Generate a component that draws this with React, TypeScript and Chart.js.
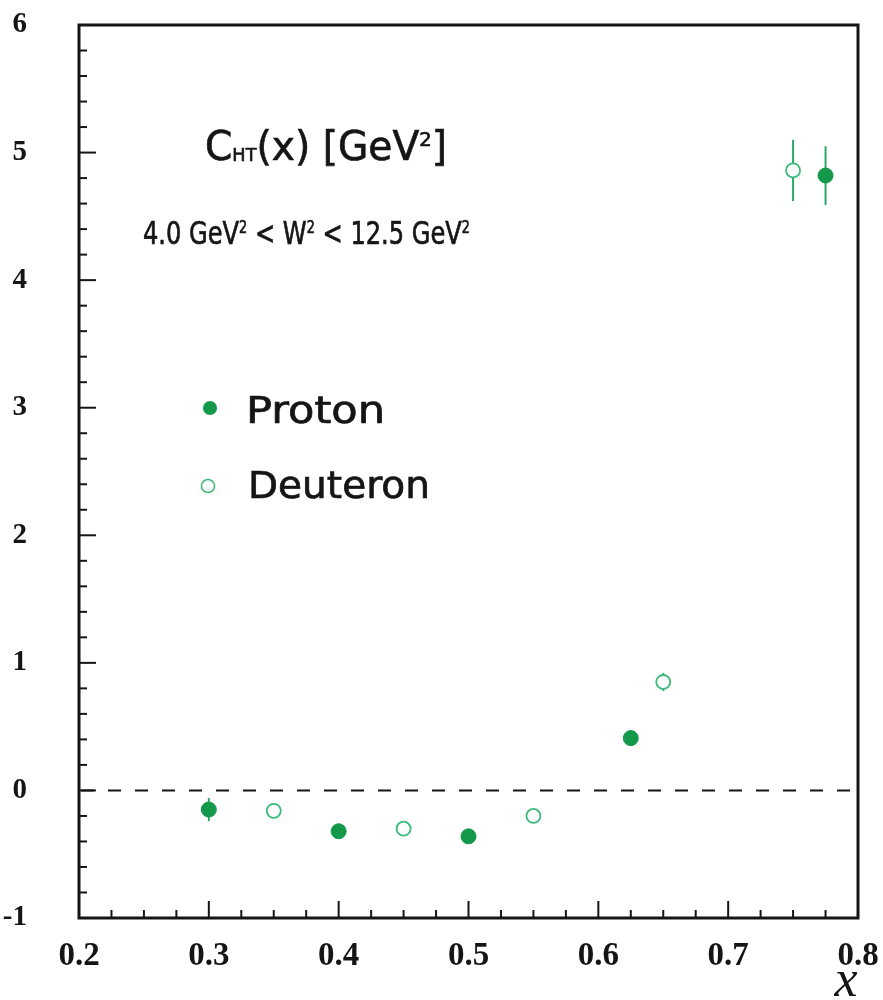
import React, { useEffect, useRef } from 'react';
import { Chart, registerables } from 'chart.js';

Chart.register(...registerables);

// x positions and C_HT values
const protonX = [0.3, 0.4, 0.5, 0.625, 0.775];
const protonY = [-0.15, -0.32, -0.36, 0.41, 4.82];
const protonErr = [0.09, 0.04, 0.04, 0.06, 0.23];

const deuteronX = [0.35, 0.45, 0.55, 0.65, 0.75];
const deuteronY = [-0.16, -0.3, -0.2, 0.85, 4.86];
const deuteronErr = [0.04, 0.03, 0.03, 0.07, 0.24];

const xMin = 0.2;
const xMax = 0.8;
const yMin = -1;
const yMax = 6;

const FILL_GREEN = '#14984a';
const OPEN_GREEN = '#3dba7c';
const BAR_GREEN = '#2aa866';
const INK = '#151515';
const SANS = '"DejaVu Sans"';

type Seg = { t: string; size: number; dy?: number };

// draws a run of text pieces, squeezed/stretched to a given width
const drawRich = (ctx, segs: Seg[], x: number, baseline: number, width: number) => {
  let total = 0;
  segs.forEach((s) => {
    ctx.font = `${s.size}px ${SANS}`;
    total += ctx.measureText(s.t).width;
  });
  ctx.save();
  ctx.translate(x, baseline);
  ctx.scale(width / total, 1);
  ctx.fillStyle = INK;
  ctx.strokeStyle = INK;
  ctx.lineWidth = 0.7;
  ctx.textBaseline = 'alphabetic';
  ctx.textAlign = 'left';
  let cx = 0;
  segs.forEach((s) => {
    ctx.font = `${s.size}px ${SANS}`;
    ctx.fillText(s.t, cx, -(s.dy || 0));
    ctx.strokeText(s.t, cx, -(s.dy || 0));
    cx += ctx.measureText(s.t).width;
  });
  ctx.restore();
};

const errorBars = {
  id: 'errorBars',
  beforeDatasetsDraw(chart) {
    const { ctx, chartArea, scales } = chart;
    const xs = scales.x;
    const ys = scales.y;
    ctx.save();

    // dashed zero line
    ctx.strokeStyle = INK;
    ctx.lineWidth = 2;
    ctx.setLineDash([13, 14]);
    ctx.beginPath();
    ctx.moveTo(chartArea.left + 2, ys.getPixelForValue(0));
    ctx.lineTo(chartArea.right - 8, ys.getPixelForValue(0));
    ctx.stroke();
    ctx.setLineDash([]);

    ctx.strokeStyle = BAR_GREEN;
    ctx.lineWidth = 2;
    const bars = (xv: number[], yv: number[], ev: number[]) => {
      xv.forEach((x, i) => {
        const px = xs.getPixelForValue(x);
        ctx.beginPath();
        ctx.moveTo(px, ys.getPixelForValue(yv[i] - ev[i]));
        ctx.lineTo(px, ys.getPixelForValue(yv[i] + ev[i]));
        ctx.stroke();
      });
    };
    bars(protonX, protonY, protonErr);
    bars(deuteronX, deuteronY, deuteronErr);
    ctx.restore();
  },
  afterDraw(chart) {
    const { ctx, chartArea, scales } = chart;
    const { left, right, top, bottom } = chartArea;
    const xs = scales.x;
    const ys = scales.y;
    ctx.save();

    // frame
    ctx.strokeStyle = INK;
    ctx.lineWidth = 3;
    ctx.strokeRect(left, top, right - left, bottom - top);

    // inward ticks, majors from the scales, 4 minors per x step, 5 per y step
    ctx.lineWidth = 2;
    const xt = xs.ticks.map((t) => t.value);
    xt.forEach((v, i) => {
      const px = xs.getPixelForValue(v);
      ctx.beginPath();
      ctx.moveTo(px, bottom);
      ctx.lineTo(px, bottom - 17);
      ctx.stroke();
      if (i < xt.length - 1) {
        const step = (xt[i + 1] - v) / 4;
        for (let k = 1; k < 4; k++) {
          const mx = xs.getPixelForValue(v + k * step);
          ctx.beginPath();
          ctx.moveTo(mx, bottom);
          ctx.lineTo(mx, bottom - 8);
          ctx.stroke();
        }
      }
    });
    const yt = ys.ticks.map((t) => t.value);
    yt.forEach((v, i) => {
      const py = ys.getPixelForValue(v);
      ctx.beginPath();
      ctx.moveTo(left, py);
      ctx.lineTo(left + 17, py);
      ctx.stroke();
      if (i < yt.length - 1) {
        const step = (yt[i + 1] - v) / 5;
        for (let k = 1; k < 5; k++) {
          const my = ys.getPixelForValue(v + k * step);
          ctx.beginPath();
          ctx.moveTo(left, my);
          ctx.lineTo(left + 8, my);
          ctx.stroke();
        }
      }
    });

    // axis title
    ctx.fillStyle = INK;
    ctx.font = 'italic 52px "Liberation Serif"';
    ctx.textAlign = 'center';
    ctx.textBaseline = 'alphabetic';
    ctx.fillText('x', 846, 996);

    // annotations
    drawRich(
      ctx,
      [
        { t: 'C', size: 40 },
        { t: 'HT', size: 18, dy: -1 },
        { t: '(x) [GeV', size: 40 },
        { t: '2', size: 20, dy: 14 },
        { t: ']', size: 40 },
      ],
      205,
      160,
      242
    );
    drawRich(
      ctx,
      [
        { t: '4.0 GeV', size: 32 },
        { t: '2', size: 17, dy: 11 },
        { t: ' < W', size: 32 },
        { t: '2', size: 17, dy: 11 },
        { t: ' < 12.5 GeV', size: 32 },
        { t: '2', size: 17, dy: 11 },
      ],
      143,
      244,
      327
    );

    // legend
    ctx.fillStyle = FILL_GREEN;
    ctx.beginPath();
    ctx.arc(210, 408, 7, 0, Math.PI * 2);
    ctx.fill();
    ctx.strokeStyle = OPEN_GREEN;
    ctx.lineWidth = 1.5;
    ctx.beginPath();
    ctx.arc(208, 486, 6.5, 0, Math.PI * 2);
    ctx.stroke();
    drawRich(ctx, [{ t: 'Proton', size: 38 }], 246, 423, 139);
    drawRich(ctx, [{ t: 'Deuteron', size: 38 }], 248, 498, 182);

    ctx.restore();
  },
};

const App = () => {
  const canvasRef = useRef(null);

  useEffect(() => {
    if (!canvasRef.current) return;
    document.body.style.margin = '0';

    const chart = new Chart(canvasRef.current, {
      type: 'scatter',
      data: {
        datasets: [
          {
            label: 'Proton',
            data: protonX.map((x, i) => ({ x, y: protonY[i] })),
            backgroundColor: FILL_GREEN,
            borderColor: FILL_GREEN,
            borderWidth: 1,
            pointRadius: 7.5,
          },
          {
            label: 'Deuteron',
            data: deuteronX.map((x, i) => ({ x, y: deuteronY[i] })),
            backgroundColor: '#ffffff',
            borderColor: OPEN_GREEN,
            borderWidth: 1.8,
            pointRadius: 7,
          },
        ],
      },
      options: {
        responsive: false,
        animation: false,
        layout: { padding: { left: 0, right: 25, top: 25, bottom: 0 } },
        plugins: { legend: { display: false }, tooltip: { enabled: false } },
        scales: {
          x: {
            type: 'linear',
            min: xMin,
            max: xMax,
            grid: { display: false },
            border: { display: false },
            ticks: {
              stepSize: 0.1,
              padding: 11,
              color: INK,
              font: { family: '"Liberation Serif"', weight: 'bold', size: 33 },
              callback: (v) => Number(v).toFixed(1),
            },
            afterFit: (s) => {
              s.height = 82;
              s.paddingLeft = 0;
              s.paddingRight = 0;
            },
          },
          y: {
            type: 'linear',
            min: yMin,
            max: yMax,
            grid: { display: false },
            border: { display: false },
            ticks: {
              stepSize: 1,
              padding: 44,
              color: INK,
              font: { family: '"Liberation Serif"', weight: 'bold', size: 29 },
            },
            afterFit: (s) => {
              s.width = 79;
              s.paddingTop = 0;
              s.paddingBottom = 0;
            },
          },
        },
      },
      plugins: [errorBars],
    });

    return () => {
      chart.destroy();
    };
  }, []);

  return <canvas ref={canvasRef} width={883} height={1000} style={{ display: 'block' }} />;
};

export default App;
